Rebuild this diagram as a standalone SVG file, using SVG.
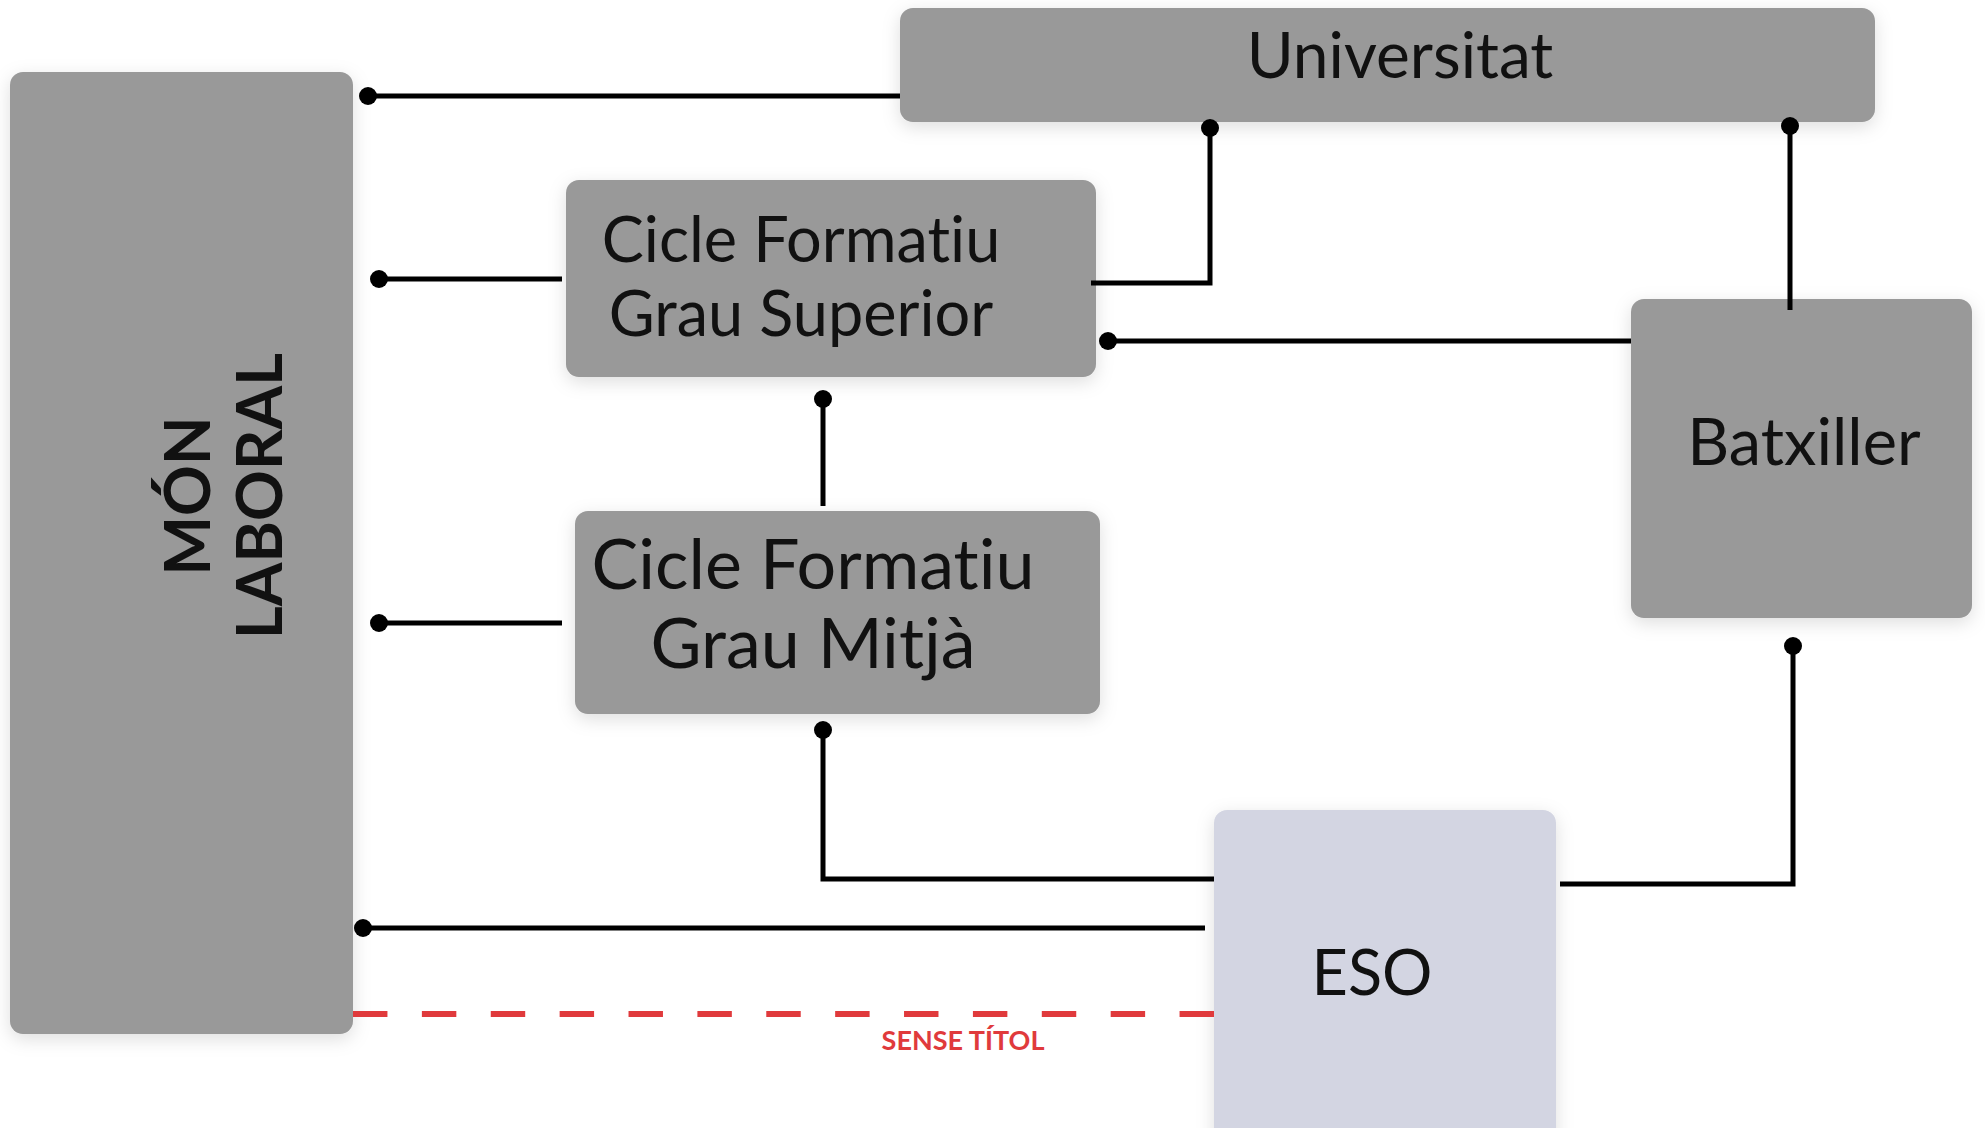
<svg xmlns="http://www.w3.org/2000/svg" width="1985" height="1128" viewBox="0 0 1985 1128">
<defs>
<filter id="sh" x="-20%" y="-20%" width="140%" height="140%">
<feDropShadow dx="0" dy="5" stdDeviation="9" flood-color="#000" flood-opacity="0.13"/>
</filter>
<marker id="dot" viewBox="0 0 20 20" refX="10" refY="10" markerWidth="20" markerHeight="20" markerUnits="userSpaceOnUse">
<circle cx="10" cy="10" r="9" fill="#000"/>
</marker>
<style>
.box{fill:#999999;filter:url(#sh)}
.eso{fill:#d3d5e2;filter:url(#sh)}
.t{font-family:Lato,"Liberation Sans",sans-serif;fill:#111;text-anchor:middle;font-variant-ligatures:none}
.b{font-weight:bold}
.c{fill:none;stroke:#000;stroke-width:5;marker-end:url(#dot)}
.d{fill:none;stroke:#e03a3c;stroke-width:6;stroke-dasharray:34.44 34.44}
.lbl{font-family:Lato,"Liberation Sans",sans-serif;font-weight:bold;fill:#e03a3c;text-anchor:middle;font-size:27px}
</style>
</defs>
<rect width="1985" height="1128" fill="#fff"/>
<g id="mon-laboral">
<rect class="box" x="10" y="72" width="343" height="962" rx="13"/>
<text class="t b" font-size="63" transform="translate(210,496) rotate(-90)">MÓN</text>
<text class="t b" font-size="63" transform="translate(282,496) rotate(-90)">LABORAL</text>
</g>
<g id="universitat">
<rect class="box" x="900" y="8" width="975" height="114" rx="13"/>
<text class="t" font-size="64" x="1400" y="78">Universitat</text>
</g>
<g id="cfgs">
<rect class="box" x="566" y="180" width="530" height="197" rx="13"/>
<text class="t" font-size="63" x="801" y="262">Cicle Formatiu</text>
<text class="t" font-size="63" x="801" y="336">Grau Superior</text>
</g>
<g id="cfgm">
<rect class="box" x="575" y="511" width="525" height="203" rx="13"/>
<text class="t" font-size="70" x="813" y="589">Cicle Formatiu</text>
<text class="t" font-size="70" x="813" y="668">Grau Mitjà</text>
</g>
<g id="batxiller">
<rect class="box" x="1631" y="299" width="341" height="319" rx="13"/>
<text class="t" font-size="65" x="1804" y="465">Batxiller</text>
</g>
<g id="eso">
<rect class="eso" x="1214" y="810" width="342" height="340" rx="13"/>
<text class="t" font-size="63" x="1372" y="995">ESO</text>
</g>
<g id="connectors">
<path class="c" d="M900 96 H368"/>
<path class="c" d="M562 279 H379"/>
<path class="c" d="M1091 283 H1210 V128"/>
<path class="c" d="M1790 310 V126"/>
<path class="c" d="M1631 341 H1108"/>
<path class="c" d="M823 506 V399"/>
<path class="c" d="M562 623 H379"/>
<path class="c" d="M1214 879 H823 V730"/>
<path class="c" d="M1560 884 H1793 V646"/>
<path class="c" d="M1205 928 H363"/>
<path class="d" d="M353 1014 H1214"/>
<text class="lbl" x="963" y="1050">SENSE TÍTOL</text>
</g>
</svg>
